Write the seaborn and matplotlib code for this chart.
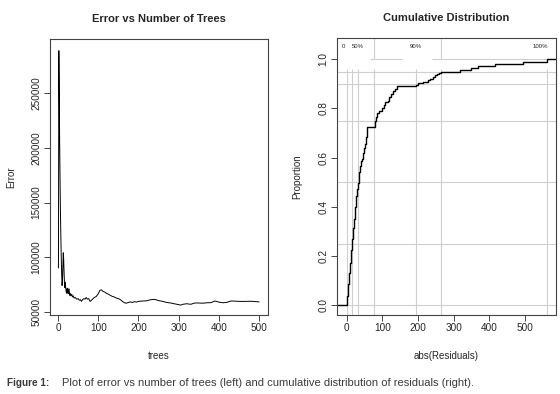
import numpy as np
import pandas as pd
import matplotlib
matplotlib.use("Agg")
import matplotlib.pyplot as plt
import seaborn as sns

# ---------------- data ----------------
trees = [1, 2, 3, 4, 5, 6, 7, 8, 9, 10,
         11, 12, 13, 14, 15, 16, 17, 18, 19, 20,
         21, 22, 23, 24, 25, 26, 27, 28, 29, 30,
         32, 34, 36, 38, 40, 43, 46, 50, 53, 56,
         58, 61, 64, 67, 70, 73, 76, 80, 83, 86,
         90, 95, 100, 104, 108, 112, 116, 120, 125, 130,
         135, 140, 145, 150, 155, 160, 165, 170, 175, 180,
         185, 190, 195, 200, 210, 220, 230, 240, 250, 260,
         270, 280, 290, 300, 305, 310, 320, 330, 340, 350,
         360, 370, 380, 390, 400, 410, 420, 430, 440, 450,
         460, 470, 480, 490, 500]
error = [90000, 289000, 250000, 205000, 170000, 140000, 118000, 100000, 85000, 74000,
         78000, 92000, 104000, 98000, 86000, 76000, 72000, 77000, 72000, 69000,
         67000, 70000, 71500, 68000, 66500, 69000, 71000, 68000, 65000, 67000,
         64500, 66000, 63500, 64500, 62500, 63000, 61500, 62000, 60500, 61000,
         59500, 61000, 62000, 61500, 63000, 61500, 62000, 59500, 60500, 61500,
         63000, 64000, 66500, 69500, 70000, 68500, 68000, 67000, 66000, 65000,
         64000, 63500, 62500, 62000, 61000, 59500, 58200, 57800, 58500, 59000,
         58500, 59200, 58800, 59500, 59800, 60000, 61000, 61300, 60200, 59500,
         58500, 58000, 57200, 56500, 56000, 56800, 57300, 56800, 58000, 58000,
         57800, 58200, 58300, 59800, 58800, 58200, 58600, 59800, 59700, 59500,
         59400, 59500, 59600, 59300, 59000]

resid_val = [-40, 0.5, 1.2, 2, 2.8, 3.5, 4.2, 5, 5.8, 6.5, 7.2,
             8, 8.8, 9.5, 10.2, 11, 11.8, 12.5, 13.2, 14, 14.8,
             15.5, 16.2, 17, 17.8, 18.5, 19.2, 20, 20.8, 21.5, 22.2,
             23, 23.8, 24.5, 25.2, 26, 26.8, 27.5, 28.2, 29, 29.8,
             30.5, 31.2, 32, 33.5, 36, 38, 40, 42, 45, 48, 51,
             54, 56, 58, 79, 81, 84, 90, 100, 104, 108,
             116, 120, 125, 130, 135, 140, 195, 200, 215, 228,
             235, 242, 248, 252, 258, 265, 318, 350, 369, 416,
             495, 561, 620]
cum_prop = [0.0, 0.01, 0.022, 0.035, 0.048, 0.06, 0.072, 0.085, 0.095, 0.105, 0.118,
            0.13, 0.145, 0.16, 0.172, 0.185, 0.198, 0.21, 0.222, 0.235, 0.245,
            0.255, 0.268, 0.28, 0.29, 0.30, 0.315, 0.33, 0.34, 0.35, 0.362,
            0.375, 0.388, 0.40, 0.41, 0.42, 0.432, 0.445, 0.455, 0.465, 0.472,
            0.48, 0.488, 0.495, 0.51, 0.54, 0.565, 0.585, 0.595, 0.62, 0.64, 0.655,
            0.685, 0.705, 0.726, 0.75, 0.765, 0.78, 0.79, 0.80, 0.815, 0.825,
            0.83, 0.845, 0.86, 0.87, 0.88, 0.89, 0.897, 0.902, 0.909, 0.916,
            0.922, 0.929, 0.935, 0.94, 0.944, 0.95, 0.956, 0.963, 0.973, 0.98,
            0.99, 1.0, 1.0]

quant_x = [0, 16, 33, 77, 194, 265, 561]
quant_p = [0.0, 0.25, 0.5, 0.75, 0.9, 0.95]
quant_lab = ["0", "50%", "90%", "100%"]
quant_lab_x = [-8, 32, 193, 543]

# ---------------- style ----------------
sns.set_style("white")
plt.rcParams['font.family'] = ['Liberation Sans', 'DejaVu Sans']

fig = plt.figure(figsize=(5.6, 3.94), dpi=100)
axL = fig.add_axes([50/560, 1-315/394, 218/560, 276/394])
axR = fig.add_axes([337/560, 1-315/394, 219/560, 277/394])

spine_c = "#444444"
for ax in (axL, axR):
    for s in ax.spines.values():
        s.set_color(spine_c)
        s.set_linewidth(0.8)
    ax.tick_params(axis="both", direction="out", length=4, width=0.7,
                   color=spine_c, labelsize=7.2, pad=2, bottom=True, left=True)

# ---------------- left panel ----------------
dfL = pd.DataFrame({"trees": trees, "Error": error})
sns.lineplot(data=dfL, x="trees", y="Error", ax=axL, color="black", linewidth=0.7)
axL.set_xlim(-20, 522)
axL.set_ylim(47000, 299700)
axL.set_xticks([0, 100, 200, 300, 400, 500])
axL.set_yticks([50000, 100000, 150000, 200000, 250000])
axL.set_yticklabels(["50000", "100000", "150000", "200000", "250000"],
                    rotation=90, va="center")
axL.set_title("Error vs Number of Trees", fontsize=8, fontweight="bold", pad=12)
axL.set_xlabel("trees", fontsize=7)
axL.set_ylabel("Error", fontsize=7)
axL.xaxis.set_label_coords(0.5, -0.13)
axL.yaxis.set_label_coords(-0.156, 0.5)

# ---------------- right panel ----------------
weights = np.diff(np.r_[0.0, cum_prop])
dfR = pd.DataFrame({"abs(Residuals)": resid_val, "w": weights})
grid_c = "#cfcfcf"
for p in quant_p:
    axR.axhline(p, color=grid_c, linewidth=0.8, zorder=0)
axR.vlines(quant_x, -0.05, 0.96, color=grid_c, linewidth=0.8, zorder=0)
axR.vlines([quant_x[3], quant_x[5]], 1.0, 1.1, color=grid_c, linewidth=0.8, zorder=0)
axR.hlines([1.0, 1.0], [65, 240], [155, 561], color=grid_c, linewidth=0.8, zorder=0)
sns.ecdfplot(data=dfR, x="abs(Residuals)", weights="w", ax=axR,
             color="black", linewidth=1.0)
for lx, lt in zip(quant_lab_x, quant_lab):
    axR.text(lx, 1.052, lt, fontsize=4.3, ha="center", va="center", color="#222222")
axR.set_xlim(-27, 587)
axR.set_ylim(-0.041, 1.087)
axR.set_xticks([0, 100, 200, 300, 400, 500])
axR.set_yticks([0.0, 0.2, 0.4, 0.6, 0.8, 1.0])
axR.set_yticklabels(["0.0", "0.2", "0.4", "0.6", "0.8", "1.0"], rotation=90, va="center")
axR.set_title("Cumulative Distribution", fontsize=8, fontweight="bold", pad=12)
axR.set_xlabel("abs(Residuals)", fontsize=7)
axR.set_ylabel("Proportion", fontsize=7)
axR.xaxis.set_label_coords(0.5, -0.13)
axR.yaxis.set_label_coords(-0.16, 0.5)

# ---------------- caption ----------------
fig.text(7/560, 1-383/394, "Figure 1:", fontsize=7.2, fontweight="bold",
         color="#3a3a3a", va="center", ha="left")
fig.text(62/560, 1-383/394,
         "Plot of error vs number of trees (left) and cumulative distribution of residuals (right).",
         fontsize=8, color="#3a3a3a", va="center", ha="left",
         family=["Liberation Sans", "DejaVu Sans"])

fig.savefig("out.png", dpi=100)
